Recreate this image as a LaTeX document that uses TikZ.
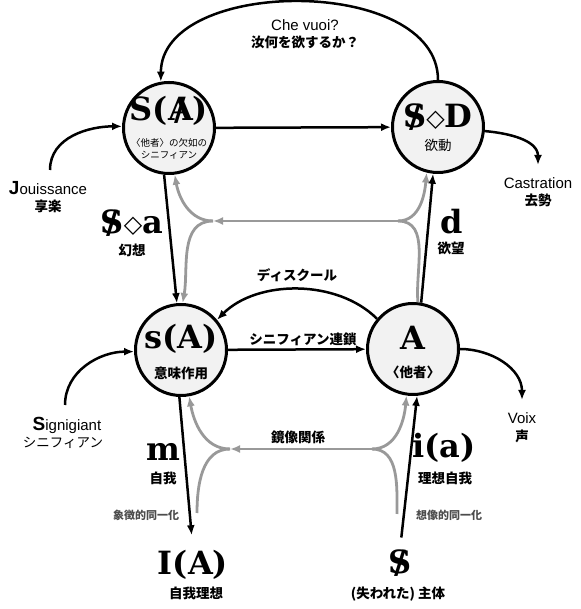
\documentclass[tikz,border=0pt]{standalone}
\usepackage{fontspec}
\setmainfont{Liberation Sans}
\newfontfamily\jpfont{Noto Sans CJK JP}
\newfontfamily\lacanfont{DejaVu Serif}
\newfontfamily\diafont{DejaVu Sans}
\usepackage{tikz}
\usetikzlibrary{arrows.meta, positioning}

\newcommand{\barred}[1]{\ooalign{#1\cr\hidewidth/\hidewidth}}
\newcommand{\lozen}{{\diafont\mdseries\fontsize{24}{24}\selectfont\raisebox{1pt}{◇}}}

\begin{document}
\begin{tikzpicture}[x=1pt, y=1pt,
        every node/.style={inner sep=0pt, anchor=center},
        place/.style={circle, draw, line width=3pt, fill=black!5, minimum size=91pt},
        sym/.style={font=\lacanfont\bfseries\fontsize{32}{32}\selectfont},
        jp/.style={font=\jpfont\bfseries\fontsize{13.5}{16}\selectfont},
        jplight/.style={font=\jpfont\fontsize{13.5}{16}\selectfont},
        jpsmall/.style={font=\jpfont\fontsize{9.5}{11.5}\selectfont, align=center},
        latin/.style={font=\fontsize{15}{17}\selectfont},
        note/.style={font=\jpfont\bfseries\fontsize{11}{13}\selectfont, text=black!70},
        link/.style={line width=2.5pt, -{Latex[length=10pt,width=8pt]}},
        mirror/.style={line width=2.8pt, draw=black!40},
        mirrorarrow/.style={mirror, -{Latex[length=10pt,width=8pt]}}
    ]
    \path[use as bounding box, fill=white] (0,0) rectangle (580,609);

    % Places
    \node[place] (SA) at (169,481) {};
    \node[place] (SD) at (438,482) {};
    \node[place] (sA) at (181,259) {};
    \node[place] (AA) at (413,260) {};

    \node[sym] (SAsym) at ([yshift=17pt]SA.center) {S(\barred{A})};
    \node[jpsmall] (SAsub) at ([yshift=-21pt]SA.center) {〈他者〉の欠如の\\シニフィアン};
    \node[sym] (SDsym) at ([yshift=10pt]SD.center) {\barred{S}\lozen D};
    \node[jplight] (SDsub) at ([yshift=-18pt]SD.center) {欲動};
    \node[sym] (sAsym) at ([yshift=11pt]sA.center) {s(A)};
    \node[jp] (sAsub) at ([yshift=-23pt]sA.center) {意味作用};
    \node[sym] (AAsym) at ([yshift=11pt]AA.center) {A};
    \node[jp] (AAsub) at ([yshift=-23pt]AA.center) {〈他者〉};

    % Gray forks
    \coordinate (upR) at (398,388);
    \coordinate (upL) at (213,388);
    \draw[mirror] (AA.84) to[out=95, in=0] (upR);
    \draw[mirrorarrow] (upR) to[out=0, in=-95] (SD.256);
    \draw[mirrorarrow] (upR) -- (upL);
    \draw[mirrorarrow] (upL) to[out=180, in=-80] (SA.277);
    \draw[mirrorarrow] (upL) to[out=180, in=80] (sA.88);

    \coordinate (loR) at (372,160);
    \coordinate (loL) at (230,160);
    \coordinate (imgS) at (397,95);
    \coordinate (symE) at (197,96);
    \draw[mirror] (imgS) to[out=90, in=0] (loR);
    \draw[mirrorarrow] (loR) to[out=0, in=-95] (AA.262);
    \draw[mirrorarrow] (loR) -- (loL);
    \draw[mirrorarrow] (loL) to[out=180, in=-80] (sA.280);
    \draw[mirror] (loL) to[out=180, in=90] (symE);

    % Upper level
    \draw[link] (SD.north) .. controls +(0,105) and +(0,105) .. (SA.100);
    \node[latin] (chevuoi) at (305,584) {Che vuoi?};
    \node[jp, below=5pt of chevuoi] (chevuoiJP) {汝何を欲するか？};
    \draw[link] (SA) -- (SD);

    \coordinate (jouS) at (50,439);
    \draw[link] (jouS) to[out=90, in=180] (SA.178);
    \node[latin] (jou) at (48,421) {{\bfseries\fontsize{19}{19}\selectfont J}ouissance};
    \node[jp, below=5pt of jou] (jouJP) {享楽};

    \coordinate (casE) at (538,444);
    \draw[link] (SD.-5) to[out=-5, in=90] (casE);
    \node[latin] (cas) at (538,426) {Castration};
    \node[jp, below=5pt of cas] (casJP) {去勢};

    \node[sym] (fant) at (132,386) {\barred{S}\lozen a};
    \node[jp] (fantJP) at (132,359) {幻想};
    \node[sym] (desire) at (452,387) {d};
    \node[jp] (desireJP) at (451,361) {欲望};

    \draw[link] (SA.264) -- (sA.95);
    \draw[link] (AA.80) -- (SD.264);

    % Lower level
    \draw[link] (AA.140) .. controls +(-40,40) and +(40,40) .. (sA.40);
    \node[jp] (disc) at (297,334) {ディスクール};
    \draw[link] (sA) -- (AA);
    \node[jp] (chain) at (303,270) {シニフィアン連鎖};

    \coordinate (sigS) at (65,204);
    \draw[link] (sigS) to[out=90, in=180] (sA.182);
    \node[latin] (sig) at (67,184) {{\bfseries\fontsize{19}{19}\selectfont S}ignigiant};
    \node[jplight] (sigJP) at (63,166) {シニフィアン};

    \coordinate (voixE) at (522,209);
    \draw[link] (AA.east) to[out=0, in=90] (voixE);
    \node[latin] (voix) at (522,191) {Voix};
    \node[jp] (voixJP) at (522,173) {声};

    \node[jp] (mirrorlbl) at (298,172) {鏡像関係};
    \node[sym] (ego) at (163,157) {m};
    \node[jp] (egoJP) at (163,131) {自我};
    \node[sym] (ideal) at (444,161) {i(a)};
    \node[jp] (idealJP) at (445,131) {理想自我};

    \node[note] (symid) at (146,94) {象徴的同一化};
    \node[note] (imid) at (449,94) {想像的同一化};

    % Bottom
    \node[sym] (IA) at (193,44) {I(A)};
    \node[jp] (IAJP) at (196,16) {自我理想};
    \node[sym] (subj) at (400,46) {\barred{S}};
    \node[jp] (subjJP) at (398,15) {(失われた) 主体};
    \draw[link, shorten >=15pt] (sA.268) -- (IA.north);
    \draw[link, shorten <=12pt] (subj.north) -- (AA.275);

\end{tikzpicture}
\end{document}
